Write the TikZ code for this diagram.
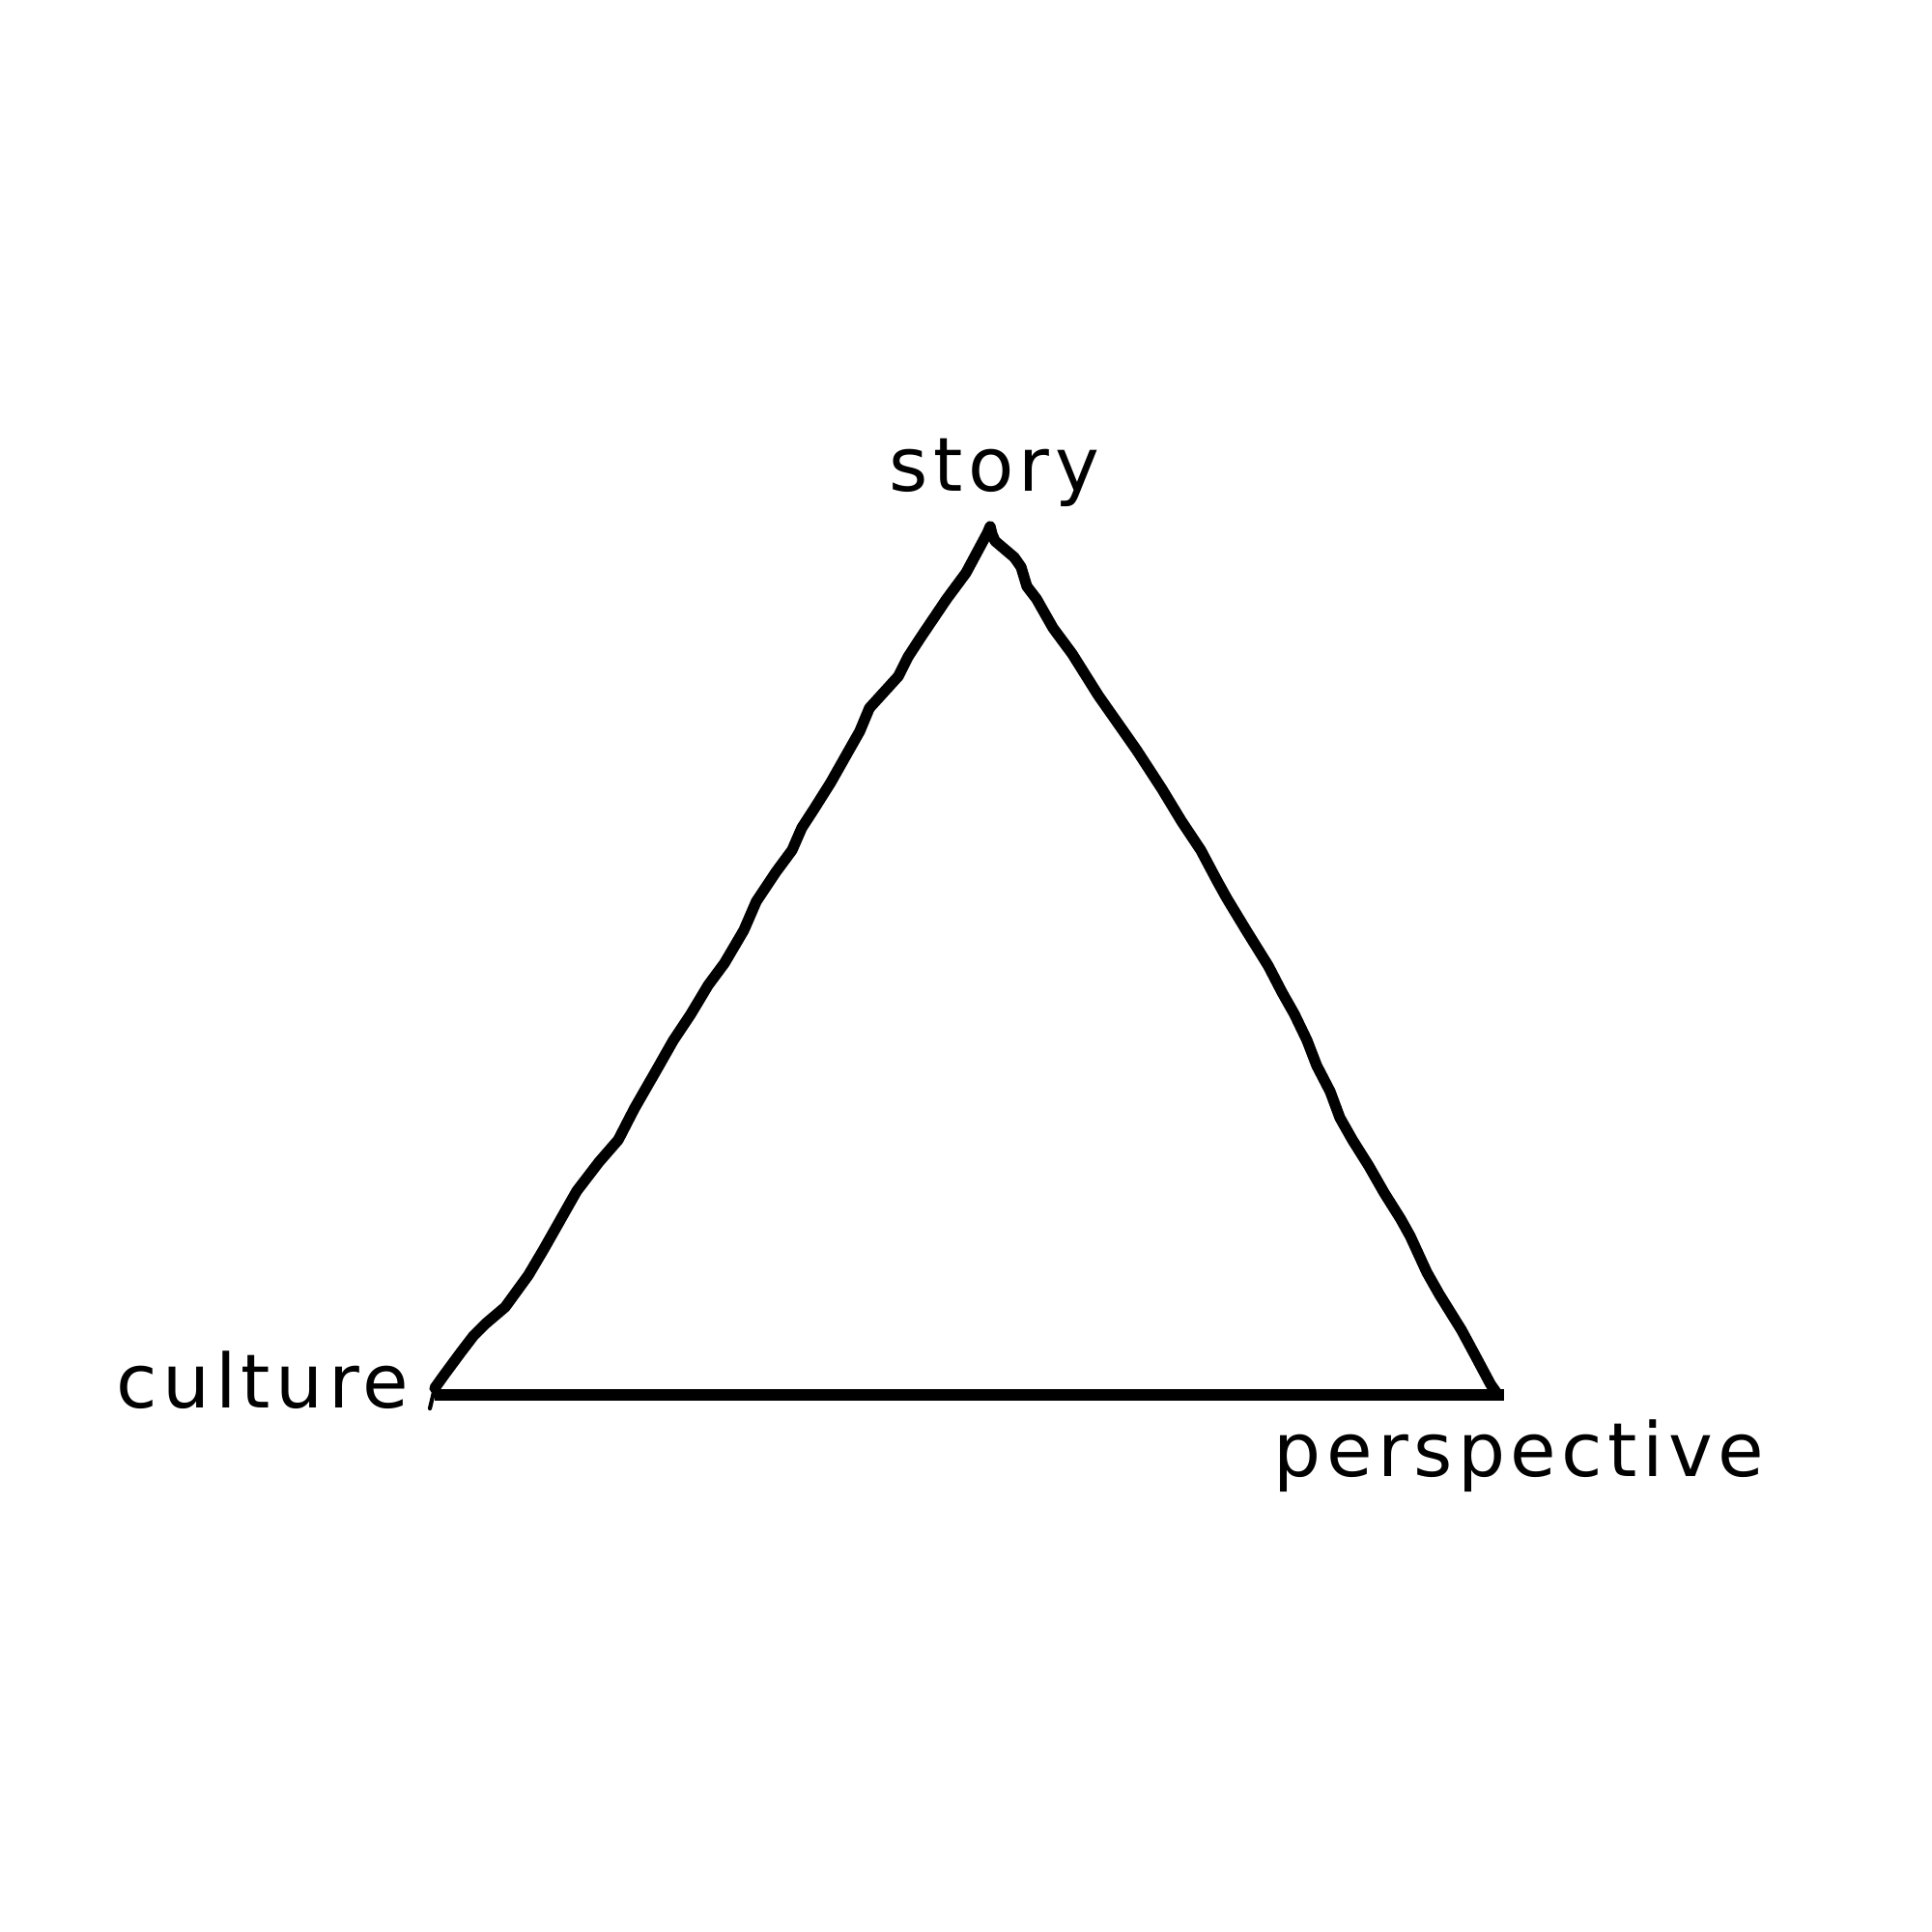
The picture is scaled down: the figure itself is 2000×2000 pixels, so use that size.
\documentclass[tikz,border=0pt]{standalone}
\usepackage{fontspec}
\newfontfamily\handfont[LetterSpace=7]{DejaVu Sans}
\begin{document}
\begin{tikzpicture}[x=0.01cm,y=-0.01cm,
  edge/.style={line width=3.2pt,line join=round,line cap=round},
  baseedge/.style={line width=3.2pt,line cap=butt},
  tickline/.style={line width=1.2pt,line cap=round},
  lbl/.style={anchor=base west,inner sep=0pt,font=\handfont\fontsize{22}{26}\selectfont}]
\useasboundingbox[fill=white] (0,0) rectangle (2000,2000);
% vertices
\coordinate (apex) at (1025,545);
\coordinate (bl) at (450,1437);
\coordinate (br) at (1550,1443);
\coordinate (baseL) at (450,1444);
\coordinate (baseR) at (1557,1444);
\coordinate (tickend) at (445,1458);
% labels
\node[lbl] (story) at (920,508) {story};
\node[lbl] (culture) at (120,1457) {culture};
\node[lbl] (perspective) at (1318,1528) {perspective};
% left side
\draw[edge] (apex) -- (1022,552) -- (1000,593) -- (980,620) -- (953,660) -- (940,680)
  -- (930,700) -- (900,733) -- (890,757) -- (873,787) -- (860,810) -- (843,837)
  -- (830,857) -- (820,880) -- (803,903) -- (783,933) -- (770,963) -- (750,997)
  -- (733,1020) -- (715,1050) -- (697,1077) -- (680,1107) -- (657,1147) -- (640,1180)
  -- (620,1203) -- (597,1233) -- (580,1263) -- (563,1293) -- (547,1320) -- (523,1353)
  -- (503,1370) -- (490,1383) -- (477,1400) -- (460,1423) -- (bl);
\draw[tickline] (bl) -- (tickend);
% right side
\draw[edge] (apex) -- (1027,553) -- (1030,560) -- (1050,577) -- (1057,587) -- (1063,607)
  -- (1073,620) -- (1090,650) -- (1110,677) -- (1137,720) -- (1163,757) -- (1177,777)
  -- (1190,797) -- (1203,817) -- (1223,850) -- (1243,880) -- (1260,912) -- (1270,930)
  -- (1290,963) -- (1313,1000) -- (1327,1027) -- (1340,1050) -- (1353,1077) -- (1363,1103)
  -- (1377,1130) -- (1387,1157) -- (1400,1180) -- (1417,1207) -- (1433,1235) -- (1450,1262)
  -- (1460,1280) -- (1477,1317) -- (1490,1340) -- (1513,1377) -- (1527,1403) -- (1543,1433)
  -- (br);
% base
\draw[baseedge] (baseL) -- (baseR);
\end{tikzpicture}
\end{document}
